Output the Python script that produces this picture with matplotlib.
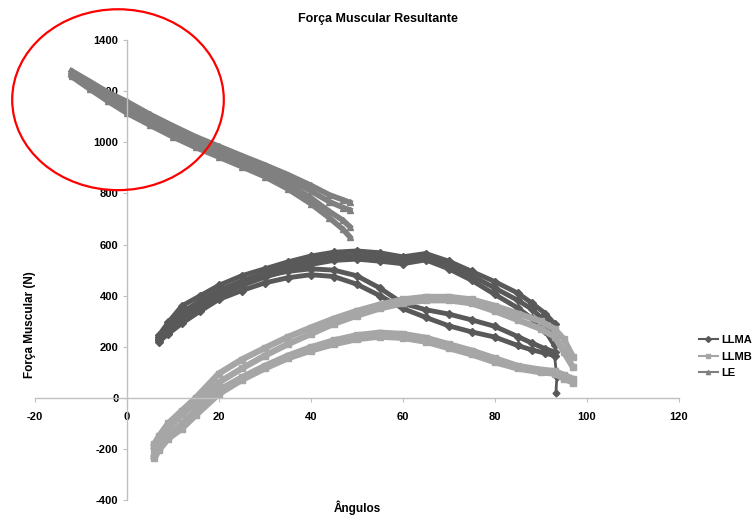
import matplotlib.pyplot as plt
from matplotlib.lines import Line2D
from matplotlib.patches import Ellipse

plt.rcParams['font.family'] = ['Liberation Sans', 'DejaVu Sans']
plt.rcParams['font.weight'] = 'bold'
plt.rcParams['axes.unicode_minus'] = False

# ----- data (several cycles per series) ----- #
le_x = [-12, -8, -4, 0, 5, 10, 15, 20, 25, 30, 35, 40, 44, 47, 48.5]
le_y1 = [1280, 1238, 1195, 1160, 1110, 1065, 1022, 985, 948, 912, 874, 832, 795, 775, 765]
le_y2 = [1272, 1228, 1183, 1145, 1095, 1050, 1008, 970, 933, 897, 857, 810, 768, 745, 735]
le_y3 = [1265, 1218, 1170, 1128, 1080, 1035, 993, 957, 920, 883, 838, 783, 730, 695, 670]
le_y4 = [1258, 1208, 1160, 1115, 1068, 1022, 980, 943, 905, 866, 818, 760, 705, 660, 630]

llma_x = [7, 9, 12, 16, 20, 25, 30, 35, 40, 45, 50, 55, 60, 65, 70, 75, 80, 85, 88, 91, 93]
llma_y1 = [245, 295, 360, 400, 440, 478, 505, 532, 555, 570, 575, 568, 552, 565, 535, 495, 455, 410, 372, 330, 290]
llma_y2 = [232, 270, 335, 380, 420, 458, 488, 515, 538, 553, 558, 552, 538, 555, 520, 478, 430, 382, 348, 300, 250]
llma_y3 = [225, 255, 310, 360, 400, 440, 472, 500, 522, 538, 543, 535, 525, 540, 505, 460, 405, 352, 312, 262, 205]
llma_y4 = [238, 275, 330, 378, 420, 452, 477, 495, 505, 500, 478, 430, 370, 345, 328, 305, 280, 240, 215, 192, 180]
llma_y5 = [220, 250, 292, 340, 385, 420, 450, 470, 482, 475, 445, 400, 350, 315, 282, 258, 238, 205, 188, 175, 165]
llma_tail_x = [93, 93.5, 93.3]
llma_tail_y = [165, 80, 20]

llmb_x = [6, 7, 9, 12, 15, 20, 25, 30, 35, 40, 45, 50, 55, 60, 65, 70, 75, 80, 85, 90, 93, 95, 97]
llmb_y1 = [-180, -150, -100, -50, 0, 95, 150, 195, 238, 275, 310, 340, 365, 385, 395, 395, 385, 360, 330, 300, 270, 230, 160]
llmb_y2 = [-195, -165, -118, -65, -20, 60, 115, 165, 210, 250, 290, 322, 350, 370, 382, 382, 370, 340, 305, 270, 240, 180, 120]
llmb_y3 = [-225, -195, -150, -100, -50, 30, 80, 125, 165, 198, 225, 245, 255, 250, 235, 210, 185, 155, 125, 110, 105, 90, 75]
llmb_y4 = [-235, -205, -160, -120, -68, 15, 70, 115, 155, 185, 210, 230, 240, 235, 220, 195, 170, 140, 115, 100, 95, 75, 60]

labels = ['LLMA', 'LLMB', 'LE']
colors = ['#595959', '#a6a6a6', '#808080']
markers = ['D', 's', '^']

fig = plt.figure(figsize=(7.55, 5.15), dpi=100)
ax = fig.add_axes([0.046, 0.029, 0.853, 0.893])

# ----- series ----- #
for y in [llma_y1, llma_y2, llma_y3, llma_y4, llma_y5]:
    ax.plot(llma_x, y, color=colors[0], marker=markers[0], ms=4, lw=3.5)
ax.plot(llma_tail_x, llma_tail_y, color=colors[0], marker=markers[0], ms=3.5, lw=2)

for y in [llmb_y1, llmb_y2, llmb_y3, llmb_y4]:
    ax.plot(llmb_x, y, color=colors[1], marker=markers[1], ms=4.5, lw=4.5)

for y in [le_y1, le_y2, le_y3, le_y4]:
    ax.plot(le_x, y, color=colors[2], marker=markers[2], ms=4.5, lw=4)

# ----- axes in Excel style ----- #
ax.set_xlim(-20, 120)
ax.set_ylim(-400, 1400)
ax.set_xticks(range(-20, 121, 20))
ax.set_yticks(range(-400, 1401, 200))
for s in ['top', 'right']:
    ax.spines[s].set_visible(False)
ax.spines['left'].set_position(('data', 0))
ax.spines['bottom'].set_position(('data', 0))
for s in ['left', 'bottom']:
    ax.spines[s].set_color('#c0c0c0')
    ax.spines[s].set_linewidth(1)
ax.tick_params(direction='out', length=3, color='#c0c0c0', labelsize=8)
ax.tick_params(axis='x', pad=7)
ax.tick_params(axis='y', pad=3)

# ----- red ellipse ----- #
ax.add_patch(Ellipse((-1.9, 1167), width=46, height=708, fill=False,
                     edgecolor='red', lw=1.6, clip_on=False, zorder=5))

# ----- texts ----- #
fig.text(0.5, 1 - 19 / 515, 'Força Muscular Resultante', ha='center', va='center', fontsize=9)
fig.text(30 / 755, 1 - 325 / 515, 'Força Muscular (N)', rotation=90, ha='center', va='center', fontsize=8.5)
fig.text(357 / 755, 1 - 508 / 515, 'Ângulos', ha='center', va='center', fontsize=8.5)

handles = [Line2D([], [], color=c, marker=m, ms=3, lw=1.5) for c, m in zip(colors, markers)]
fig.legend(handles, labels, loc='upper left', bbox_to_anchor=(699 / 755, 1 - 335 / 515),
           frameon=False, fontsize=8, handlelength=1.7, handletextpad=0.3,
           labelspacing=0.6, borderaxespad=0, borderpad=0)

fig.savefig('out.png', dpi=100)
